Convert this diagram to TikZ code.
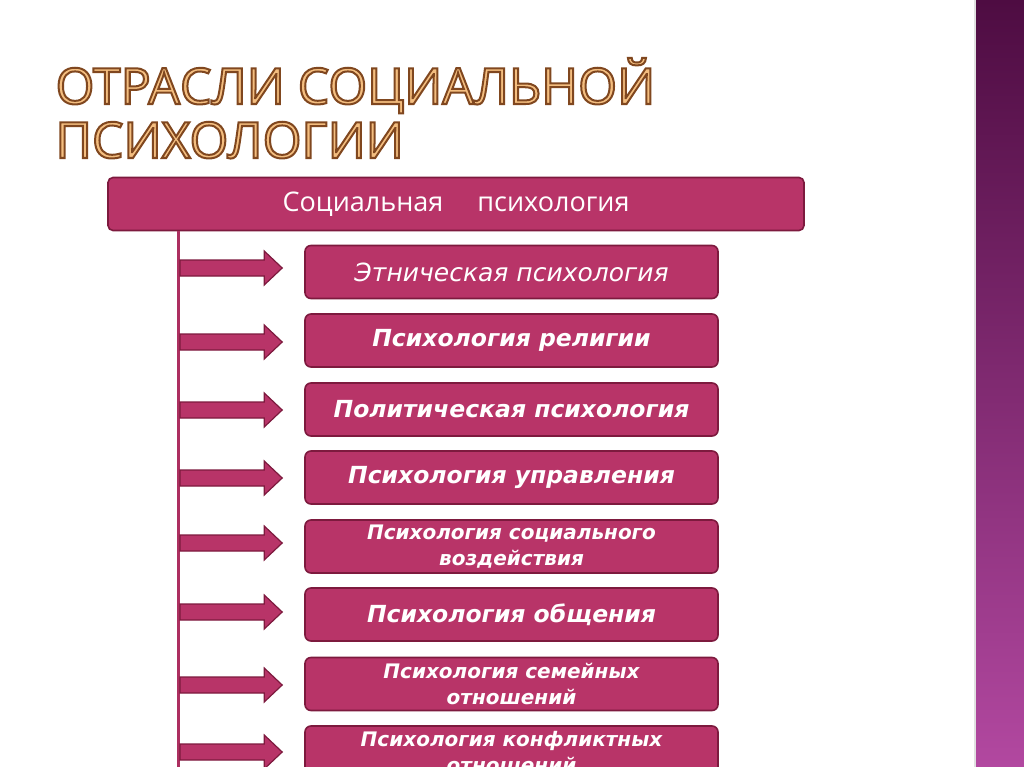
\documentclass[tikz,border=0pt]{standalone}
\usepackage{fontspec}
\setmainfont{Open Sans}
\newfontfamily\boxfont{DejaVu Sans}
\newfontfamily\titlefont{Open Sans}
\usetikzlibrary{calc,positioning}
\definecolor{rasp}{RGB}{184,52,104}
\definecolor{raspdark}{RGB}{125,26,62}
\definecolor{titlefill}{RGB}{244,190,128}
\definecolor{bandtop}{RGB}{78,12,66}
\definecolor{bandbot}{RGB}{178,72,160}
\newcommand{\outlined}[1]{\special{pdf:code q 2 Tr 2 w 0.50 0.28 0.12 RG}#1\special{pdf:code Q}}
\tikzset{
  topbox/.style={draw=raspdark, line width=1.6pt, fill=rasp, rounded corners=5pt,
    minimum width=696pt, minimum height=53pt, text=white, font=\fontsize{27}{30}\selectfont},
  branch/.style={draw=raspdark, line width=1.6pt, fill=rasp, rounded corners=6pt,
    minimum width=413pt, minimum height=53pt, text=white, align=center,
    font=\boxfont\bfseries\itshape\fontsize{23.5}{26}\selectfont},
  branchsmall/.style={branch, font=\boxfont\bfseries\itshape\fontsize{20}{26}\selectfont},
  trunk/.style={draw=rasp!80!raspdark, line width=3pt},
  blk/.style={draw=raspdark, line width=1.2pt, fill=rasp, line join=miter},
  titletext/.style={anchor=base west, text=titlefill, font=\titlefont\fontsize{50}{52}\selectfont}
}
\begin{document}
\begin{tikzpicture}[x=1pt,y=-1pt]
\useasboundingbox (0,0) rectangle (1024,767);
\fill[white] (0,0) rectangle (1024,767);
% right band
\shade[top color=bandtop, bottom color=bandbot] (976,0) rectangle (1024,767);
\fill[black!12] (974,0) rectangle (976,767);
% title
\node[titletext] (t1) at (52,104) {\outlined{ОТРАСЛИ СОЦИАЛЬНОЙ}};
\node[titletext] (t2) at (52,158) {\outlined{ПСИХОЛОГИИ}};
% top box
\node[topbox] (top) at (456,204) {Социальная\quad\ психология};
% branches
\node[branch] (b1) at (511.5,272) {\mdseries\fontsize{25}{28}\selectfont Этническая психология};
\node[branch] (b2) at (511.5,340.5) {Психология религии};
\node[branch] (b3) at (511.5,409.5) {Политическая психология};
\node[branch] (b4) at (511.5,477.5) {Психология управления};
\node[branchsmall] (b5) at (511.5,546.5) {Психология социального\\воздействия};
\node[branch] (b6) at (511.5,614.5) {Психология общения};
\node[branchsmall] (b7) at (511.5,684) {Психология семейных\\отношений};
\node[branchsmall] (b8) at (511.5,752.5) {Психология конфликтных\\отношений};
% trunk
\coordinate (tb) at (178,767);
\draw[trunk] (top.south -| tb) -- (tb);
% block arrows
\foreach \i/\yy in {1/268,2/342,3/410,4/478,5/543,6/612,7/685,8/752}{
  \coordinate (s\i) at (180,\yy);
  \coordinate (e\i) at ([xshift=-22pt]b\i.west |- s\i);
  \draw[blk] ($(s\i)+(0,-8)$) -- ($(e\i)+(-18,-8)$) -- ($(e\i)+(-18,-17)$) -- (e\i)
     -- ($(e\i)+(-18,17)$) -- ($(e\i)+(-18,8)$) -- ($(s\i)+(0,8)$) -- cycle;
}
\end{tikzpicture}
\end{document}
